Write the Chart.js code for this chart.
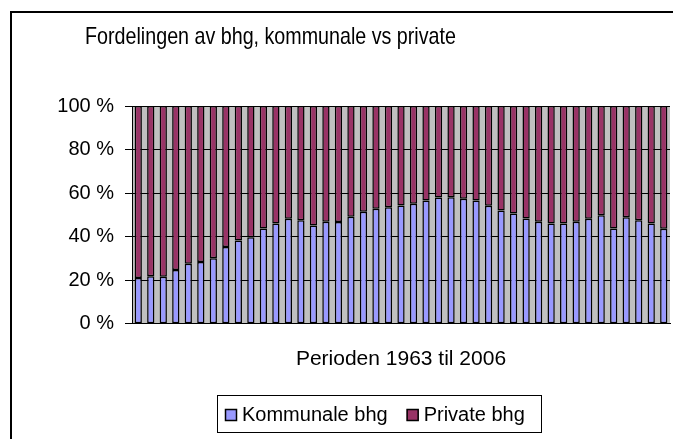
<!DOCTYPE html>
<html>
<head>
<meta charset="utf-8">
<script src="https://cdn.jsdelivr.net/npm/chart.js@4.4.1/dist/chart.umd.min.js"></script>
<style>
  html, body { margin: 0; padding: 0; background: #fff; overflow: hidden; }
  #wrap { width: 673px; height: 439px; }
  canvas { display: block; }
</style>
</head>
<body>
<div id="wrap"><canvas id="chart-bhg" width="673" height="439"></canvas></div>
<script>
// Fordelingen av bhg – 100 % stablede søyler

const YEARS = [
    '1963', '1964', '1965', '1966', '1967', '1968', '1969', '1970', '1971', '1972',
    '1973', '1974', '1975', '1976', '1977', '1978', '1979', '1980', '1981', '1982',
    '1983', '1984', '1985', '1986', '1987', '1988', '1989', '1990', '1991', '1992',
    '1993', '1994', '1995', '1996', '1997', '1998', '1999', '2000', '2001', '2002',
    '2003', '2004', '2006'
];

const KOMMUNALE = [
    21.0, 21.8, 21.6, 24.7, 27.6, 28.4, 30.1, 35.3, 38.3, 39.7,
    43.7, 46.0, 48.2, 47.5, 45.1, 46.8, 46.7, 49.1, 51.4, 52.8,
    53.5, 54.3, 55.1, 56.6, 58.0, 58.1, 57.4, 56.6, 54.2, 52.0,
    50.6, 48.3, 46.8, 46.0, 46.0, 46.8, 48.2, 49.8, 43.7, 48.9,
    47.5, 46.0, 43.6
];

const PRIVATE = [
    79.0, 78.2, 78.4, 75.3, 72.4, 71.6, 69.9, 64.7, 61.7, 60.3,
    56.3, 54.0, 51.8, 52.5, 54.9, 53.2, 53.3, 50.9, 48.6, 47.2,
    46.5, 45.7, 44.9, 43.4, 42.0, 41.9, 42.6, 43.4, 45.8, 48.0,
    49.4, 51.7, 53.2, 54.0, 54.0, 53.2, 51.8, 50.2, 56.3, 51.1,
    52.5, 54.0, 56.4
];

const Y_TICKS = [0, 20, 40, 60, 80, 100];

const FONT = '"Liberation Sans", Arial, sans-serif';

// grå plottflate, ytre ramme, tittel og legende
const frame = {
    id: 'frame',
    beforeDraw(chart) {
        const { ctx, chartArea } = chart;
        ctx.save();
        ctx.fillStyle = '#C0C0C0';
        ctx.fillRect(chartArea.left, chartArea.top,
            chartArea.right - chartArea.left, chartArea.bottom - chartArea.top);
        ctx.restore();
    },
    afterDraw(chart) {
        const ctx = chart.ctx;
        ctx.save();
        ctx.strokeStyle = '#000';
        ctx.lineWidth = 2;
        ctx.beginPath();
        ctx.moveTo(11, 440);
        ctx.lineTo(11, 12);
        ctx.lineTo(673, 12);
        ctx.stroke();

        // tittel, smal skrift
        ctx.save();
        ctx.translate(270.5, 43.5);
        ctx.scale(0.82, 1);
        ctx.fillStyle = '#000';
        ctx.font = '24px ' + FONT;
        ctx.textAlign = 'center';
        ctx.textBaseline = 'alphabetic';
        ctx.fillText('Fordelingen av bhg, kommunale vs private', 0, 0);
        ctx.restore();

        // legende
        ctx.lineWidth = 1;
        ctx.strokeRect(217.5, 395.5, 324, 37);
        ctx.font = '20px ' + FONT;
        ctx.textAlign = 'left';
        ctx.textBaseline = 'middle';
        let x = 225;
        chart.data.datasets.forEach(ds => {
            ctx.fillStyle = ds.backgroundColor;
            ctx.fillRect(x, 409, 12, 12);
            ctx.strokeStyle = '#000';
            ctx.lineWidth = 1.5;
            ctx.strokeRect(x + 0.5, 409.5, 11, 11);
            ctx.fillStyle = '#000';
            ctx.fillText(ds.label, x + 17, 415.5);
            x += 17 + ctx.measureText(ds.label).width + 19;
        });
        ctx.restore();
    }
};

new Chart(document.getElementById('chart-bhg').getContext('2d'), {
    type: 'bar',
    data: {
        labels: YEARS,
        datasets: [{
            label: 'Kommunale bhg',
            data: KOMMUNALE,
            backgroundColor: '#9999FF',
            borderColor: '#000',
            borderWidth: 1.5,
            borderSkipped: false,
            barPercentage: 0.58,
            categoryPercentage: 1,
        }, {
            label: 'Private bhg',
            data: PRIVATE,
            backgroundColor: '#993366',
            borderColor: '#000',
            borderWidth: 1.5,
            borderSkipped: false,
            barPercentage: 0.58,
            categoryPercentage: 1,
        }]
    },
    options: {
        responsive: false,
        animation: false,
        devicePixelRatio: 1,
        layout: {
            padding: { left: 0, right: 3, top: 106, bottom: 67 }
        },
        plugins: {
            legend: { display: false },
            title: { display: false },
            tooltip: { enabled: false }
        },
        scales: {
            x: {
                stacked: true,
                grid: { display: false, drawTicks: false },
                border: { display: true, color: '#000' },
                ticks: { display: false },
                title: {
                    display: true,
                    text: 'Perioden 1963 til 2006',
                    color: '#000',
                    font: { family: FONT, size: 21 },
                    padding: { top: 23, bottom: 0 }
                }
            },
            y: {
                stacked: true,
                min: 0,
                max: 100,
                afterFit(scale) { scale.width = 132; },
                afterBuildTicks(scale) {
                    scale.ticks = Y_TICKS.map(v => ({ value: v }));
                },
                grid: {
                    color: '#000',
                    lineWidth: 1,
                    drawTicks: true,
                    tickLength: 7,
                    tickColor: '#000'
                },
                border: { display: true, color: '#000', width: 1 },
                ticks: {
                    color: '#000',
                    padding: 11,
                    font: { family: FONT, size: 20 },
                    callback: v => v + ' %'
                }
            }
        }
    },
    plugins: [frame]
});
</script>
</body>
</html>
